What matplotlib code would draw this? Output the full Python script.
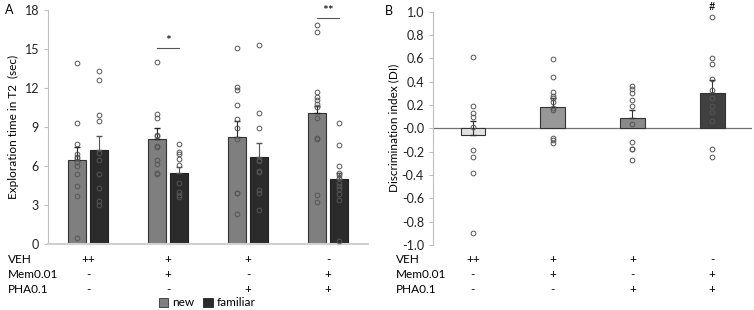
import matplotlib.pyplot as plt
import matplotlib.transforms as mtransforms
from matplotlib.patches import Patch
import numpy as np

plt.rcParams['font.family'] = ['Lato', 'DejaVu Sans']
plt.rcParams['font.size'] = 8

# panel A data
groups = [0, 1, 2, 3]
new_mean = [6.45, 8.1, 8.2, 10.1]
new_sem = [1.03, 0.82, 1.26, 0.55]
fam_mean = [7.2, 5.45, 6.67, 4.97]
fam_sem = [1.08, 0.45, 1.07, 0.47]
new_pts = [
    [13.9, 9.3, 7.7, 6.9, 6.7, 6.6, 6.3, 6.0, 5.4, 4.5, 3.7, 0.45],
    [14.0, 10.0, 9.7, 8.4, 8.3, 7.55, 7.5, 6.5, 6.15, 5.5, 5.4],
    [15.1, 12.1, 11.85, 10.7, 9.6, 8.9, 8.1, 3.95, 3.9, 2.3],
    [16.85, 16.3, 11.7, 11.3, 11.1, 10.8, 10.55, 9.7, 8.15, 8.05, 3.8, 3.2],
]
fam_pts = [
    [13.3, 12.6, 9.9, 9.5, 7.0, 6.5, 5.4, 4.3, 3.3, 3.0],
    [7.7, 7.1, 6.95, 6.55, 6.05, 4.7, 4.0, 3.8, 3.6],
    [15.3, 10.05, 8.9, 6.5, 6.4, 5.6, 5.55, 4.15, 3.95, 2.6],
    [9.3, 7.6, 6.0, 5.5, 5.3, 5.1, 4.7, 4.45, 4.2, 3.85, 3.4, 0.25],
]

# panel B data
di_mean = [-0.055, 0.185, 0.086, 0.306]
di_sem = [0.118, 0.075, 0.07, 0.11]
di_pts = [
    [0.61, 0.195, 0.13, 0.10, 0.01, -0.19, -0.245, -0.38, -0.90],
    [0.59, 0.44, 0.31, 0.28, 0.26, 0.225, 0.17, 0.155, -0.08, -0.10, -0.125],
    [0.36, 0.34, 0.30, 0.245, 0.195, 0.035, -0.115, -0.175, -0.18, -0.275],
    [0.95, 0.60, 0.55, 0.42, 0.325, 0.26, 0.19, 0.14, 0.065, -0.175, -0.25],
]
di_colors = ['#e3e3e3', '#979797', '#8a8a8a', '#404040']

row_names = ['VEH', 'Mem0.01', 'PHA0.1']
row_marks = [['++', '+', '+', '-'], ['-', '+', '-', '+'], ['-', '-', '+', '+']]

fig = plt.figure(figsize=(7.54, 3.10), dpi=100)
axA = fig.add_axes([0.0637, 0.2129, 0.4244, 0.7548])
axB = fig.add_axes([0.5743, 0.2097, 0.4231, 0.7527])

x = np.array(groups)
off = 0.1375
w = 0.23
pt_style = dict(marker='o', ms=3.4, mfc='none', mec='#555555', mew=0.7, ls='none', zorder=4)

axA.bar(x - off, new_mean, w, color='#7f7f7f', edgecolor='#333333', lw=0.8, zorder=2)
axA.bar(x + off, fam_mean, w, color='#2b2b2b', edgecolor='#222222', lw=0.8, zorder=2)
axA.errorbar(x - off, new_mean, yerr=[np.zeros(4), new_sem], fmt='none', ecolor='#222222', elinewidth=0.8, capsize=2, zorder=3)
axA.errorbar(x + off, fam_mean, yerr=[np.zeros(4), fam_sem], fmt='none', ecolor='#555555', elinewidth=0.8, capsize=2, zorder=3)
for i in groups:
    axA.plot([i - off] * len(new_pts[i]), new_pts[i], **pt_style)
    axA.plot([i + off] * len(fam_pts[i]), fam_pts[i], **pt_style)

# significance
axA.plot([1 - off, 1 + off], [15.05, 15.05], color='#555555', lw=0.8)
axA.text(1, 15.15, '*', ha='center', va='bottom', fontsize=10)
axA.plot([3 - off, 3 + off], [17.4, 17.4], color='#555555', lw=0.8)
axA.text(3, 17.45, '**', ha='center', va='bottom', fontsize=10, clip_on=False)

axA.set_xlim(-0.5, 3.5)
axA.set_ylim(0, 18)
axA.set_yticks(np.arange(0, 19, 3))
axA.set_xticks([])
axA.set_ylabel('Exploration time in T2  (sec)', fontsize=8.5, labelpad=4)
for s in ['top', 'right']:
    axA.spines[s].set_visible(False)
axA.spines['left'].set_color('#bfbfbf')
axA.spines['left'].set_linewidth(0.8)
axA.spines['bottom'].set_color('#d0d0d0')
axA.spines['bottom'].set_linewidth(1.5)
axA.tick_params(axis='y', colors='#bfbfbf', labelcolor='#222222', length=3, width=0.8, labelsize=9)

# panel B
axB.bar(x, di_mean, 0.31, color=di_colors, edgecolor='#333333', lw=0.8, zorder=2)
axB.errorbar(x, di_mean, yerr=[np.zeros(4), di_sem], fmt='none', ecolor='#333333', elinewidth=0.8, capsize=2, zorder=3)
for i in groups:
    axB.plot([i] * len(di_pts[i]), di_pts[i], **pt_style)
axB.axhline(0, color='#707070', lw=0.9, zorder=1)
axB.text(3, 1.045, '#', ha='center', va='center', fontsize=8, clip_on=False)
axB.set_xlim(-0.5, 3.5)
axB.set_ylim(-1.0, 1.0)
axB.set_yticks(np.arange(-1.0, 1.01, 0.2))
axB.set_yticklabels(['%.1f' % v for v in np.arange(-1.0, 1.01, 0.2)])
axB.set_xticks([])
axB.set_ylabel('Discrimination index (DI)', fontsize=8.5, labelpad=2)
for s in ['top', 'right', 'bottom']:
    axB.spines[s].set_visible(False)
axB.spines['left'].set_color('#bfbfbf')
axB.spines['left'].set_linewidth(0.8)
axB.tick_params(axis='y', colors='#bfbfbf', labelcolor='#222222', length=3, width=0.8, labelsize=9)

# treatment table under both panels
row_y = [259.5, 274.5, 289.5]
for ax, lab_x in [(axA, 8), (axB, 396)]:
    trans = mtransforms.blended_transform_factory(ax.transData, fig.transFigure)
    for r in range(3):
        yy = 1 - row_y[r] / 310
        fig.text(lab_x / 754, yy, row_names[r], ha='left', va='center', fontsize=8.5)
        for i in groups:
            ax.text(i, yy, row_marks[r][i], transform=trans, ha='center', va='center', fontsize=8.5)

handles = [Patch(facecolor='#7f7f7f', edgecolor='#333333', lw=0.6),
           Patch(facecolor='#2b2b2b', edgecolor='#222222', lw=0.6)]
fig.legend(handles, ['new', 'familiar'], loc='center', bbox_to_anchor=(207 / 754, 1 - 303 / 310),
           ncol=2, frameon=False, fontsize=8.5, handlelength=0.8, handleheight=0.8,
           handletextpad=0.3, columnspacing=0.8, borderpad=0)

fig.text(5 / 754, 1 - 10 / 310, 'A', fontsize=9, va='center')
fig.text(385 / 754, 1 - 11 / 310, 'B', fontsize=9, va='center')

fig.savefig('out.png', dpi=100)
